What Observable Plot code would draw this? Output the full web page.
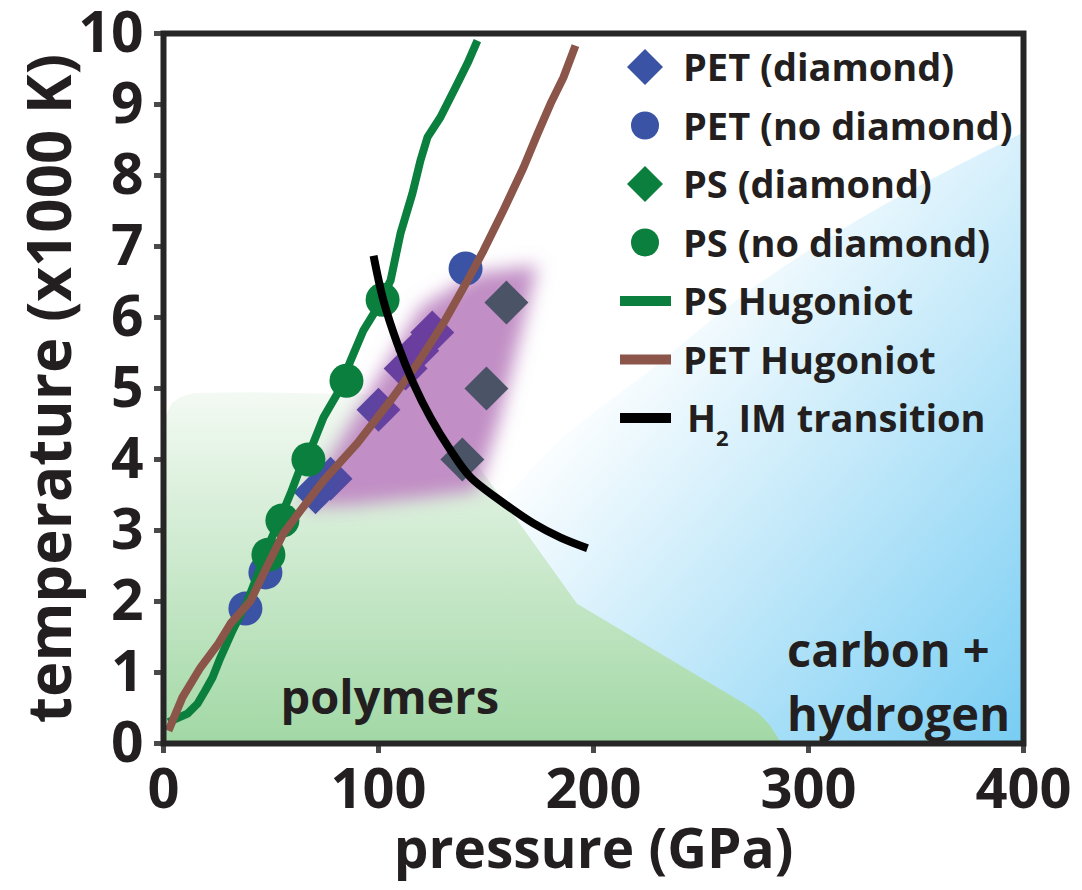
<!DOCTYPE html>
<html>
<head>
<meta charset="utf-8">
<script src="https://cdn.jsdelivr.net/npm/d3@7"></script>
<script src="https://cdn.jsdelivr.net/npm/@observablehq/plot@0.6"></script>
<style>
  body { margin: 0; background: #ffffff; }
  #chart { position: relative; width: 1082px; height: 890px; }
</style>
</head>
<body>
<div id="chart"></div>
<script>
// ---- measured states (pressure in GPa, temperature in 1000 K) ----
const petDiamondP   = [70.7, 77.7, 100.0, 112.6, 118.0, 125.0];
const petDiamondT   = [3.54, 3.73, 4.70, 5.28, 5.53, 5.79];
const petNoDiamondP = [38.1, 47.4, 140.5];
const petNoDiamondT = [1.90, 2.41, 6.69];
const psDiamondP    = [139.0, 150.2, 159.5];
const psDiamondT    = [4.00, 5.00, 6.21];
const psNoDiamondP  = [48.8, 55.3, 67.4, 85.1, 101.9];
const psNoDiamondT  = [2.66, 3.14, 4.00, 5.11, 6.25];

// ---- model curves ----
const psHugP  = [2.3, 11.2, 15.8, 19.5, 22.8, 26.5, 32.1, 39.1, 42.8, 48.4, 54.4, 59.1, 63.7, 67.0, 74.4, 80.9, 87.0, 93.0, 99.5, 105.6, 110.2, 115.8, 119.5, 122.8, 128.8, 135.8, 141.4, 146.0];
const psHugT  = [0.30, 0.42, 0.56, 0.75, 0.93, 1.21, 1.59, 2.01, 2.30, 2.76, 3.18, 3.52, 3.89, 4.03, 4.59, 4.93, 5.39, 5.82, 6.14, 6.52, 7.18, 7.75, 8.21, 8.54, 8.82, 9.24, 9.58, 9.90];
const petHugP = [2.3, 8.8, 17.2, 25.6, 31.2, 40.5, 48.4, 55.8, 63.7, 74.4, 90.2, 105.6, 118.1, 130.2, 141.4, 148.8, 158.1, 167.4, 174.0, 180.0, 186.0, 191.6];
const petHugT = [0.18, 0.65, 1.07, 1.41, 1.69, 2.01, 2.51, 2.96, 3.28, 3.70, 4.23, 4.83, 5.35, 5.92, 6.52, 6.94, 7.51, 8.11, 8.59, 9.01, 9.38, 9.83];
const h2P     = [97.7, 102.3, 108.8, 116.3, 124.2, 133.5, 142.8, 156.7, 172.1, 184.7, 197.2];
const h2T     = [6.87, 6.24, 5.63, 5.07, 4.59, 4.13, 3.75, 3.42, 3.10, 2.90, 2.75];

// ---- phase regions (upper / lower temperature bounds along pressure) ----
const polymerP    = [0, 1.5, 4.0, 8.0, 14.0, 40.5, 110.0, 142.8, 158.1, 192.6, 270.7, 277.0, 282.3, 285.5, 287.4];
const polymerTop  = [4.40, 4.62, 4.78, 4.87, 4.93, 4.94, 4.90, 4.06, 3.42, 1.96, 0.55, 0.42, 0.25, 0.10, 0];
const carbonP     = [150.0, 158.1, 184.7, 226.5, 273.0, 319.5, 356.7, 400.0];
const carbonTop   = [3.20, 3.42, 4.27, 5.25, 6.38, 7.30, 7.93, 8.60];
const hazeP       = [64.0, 87.0, 120.0, 146.0, 156.0, 170.0, 174.0];
const hazeLow     = [3.33, 3.35, 3.45, 3.55, 4.50, 6.20, 6.73];
const hazeHigh    = [3.33, 4.48, 6.14, 6.62, 6.66, 6.71, 6.73];

// ---- axis ticks ----
const xTicks = [0, 100, 200, 300, 400];
const yTicks = [0, 1, 2, 3, 4, 5, 6, 7, 8, 9, 10];

// ---- legend entries ----
const legendLabels = ["PET (diamond)", "PET (no diamond)", "PS (diamond)", "PS (no diamond)", "PS Hugoniot", "PET Hugoniot", "H2 IM transition"];
const legendKinds  = ["diamond", "circle", "diamond", "circle", "line", "line", "line"];

const BLUE = "#3a53a4", GREEN = "#0b7f3e", BROWN = "#8b554a", SLATE = "#4b5366";
const HAZE = "#c18ec5", PURPLE = "#6a3e9f", INK = "#231f20";
const SKY = "#78cdf3", LEAF = "#a2d8a5", PET_SHOT = "#3a53a5";
const legendColors = [BLUE, BLUE, GREEN, GREEN, GREEN, BROWN, "#000000"];

const rows = (P, T) => P.map((p, i) => ({p, t: T[i]}));
const band = (P, lo, hi) => P.map((p, i) => ({p, lo: lo[i], hi: hi[i]}));

const plot = Plot.plot({
  width: 1082,
  height: 890,
  marginLeft: 163,
  marginRight: 59,
  marginTop: 33,
  marginBottom: 147,
  style: {fontFamily: "'Open Sans', sans-serif", fontWeight: 700, color: INK, background: "#ffffff", overflow: "visible"},
  x: {domain: [0, 400]},
  y: {domain: [0, 10]},
  marks: [
    Plot.areaY(rows(carbonP, carbonTop), {x: "p", y1: 0, y2: "t", fill: SKY, curve: "catmull-rom"}),
    Plot.areaY(rows(polymerP, polymerTop), {x: "p", y1: 0, y2: "t", fill: LEAF}),
    Plot.areaY(band(hazeP, hazeLow, hazeHigh), {x: "p", y1: "lo", y2: "hi", fill: HAZE}),
    Plot.dot(rows(petDiamondP, petDiamondT), {x: "p", y: "t", symbol: "diamond2", r: 19.8, fill: PET_SHOT, stroke: "none"}),
    Plot.dot(rows(psDiamondP, psDiamondT), {x: "p", y: "t", symbol: "diamond2", r: 19.8, fill: SLATE, stroke: "none"}),
    Plot.dot(rows(petNoDiamondP, petNoDiamondT), {x: "p", y: "t", symbol: "circle", r: 17, fill: BLUE, stroke: "none"}),
    Plot.dot(rows(psNoDiamondP, psNoDiamondT), {x: "p", y: "t", symbol: "circle", r: 17, fill: GREEN, stroke: "none"}),
    Plot.line(rows(psHugP, psHugT), {x: "p", y: "t", stroke: GREEN, strokeWidth: 8, strokeLinecap: "butt"}),
    Plot.line(rows(petHugP, petHugT), {x: "p", y: "t", stroke: BROWN, strokeWidth: 8, strokeLinecap: "butt"}),
    Plot.line(rows(h2P, h2T), {x: "p", y: "t", stroke: "#000000", strokeWidth: 8, curve: "catmull-rom", strokeLinecap: "butt"}),
    Plot.text(["polymers"], {x: 54.4, y: 0.63, textAnchor: "start", lineAnchor: "middle", fontSize: 47, fill: INK}),
    Plot.text(["carbon +\nhydrogen"], {x: 290, y: 0.92, textAnchor: "start", lineAnchor: "middle", lineHeight: 1.37, fontSize: 47, fill: INK}),
    Plot.axisY({ticks: yTicks, tickSize: 9, tickPadding: 11, fontSize: 57, label: null, stroke: "#4a4a4a", strokeWidth: 5}),
    Plot.axisX({ticks: xTicks, tickSize: 10, tickPadding: 15, fontSize: 56, label: null, stroke: "#4a4a4a", strokeWidth: 5}),
    Plot.frame({stroke: "#262626", strokeWidth: 6}),
    Plot.text(["pressure (GPa)"], {frameAnchor: "bottom", dy: 107, textAnchor: "middle", lineAnchor: "middle", fontSize: 55, fill: INK}),
    Plot.text(["temperature (x1000 K)"], {frameAnchor: "left", dx: -112, rotate: -90, textAnchor: "middle", lineAnchor: "middle", fontSize: 60, fill: INK})
  ]
});

const xs = plot.scale("x"), ys = plot.scale("y");
const svg = d3.select(plot);
const defs = svg.insert("defs", "*");

// diagonal white-to-sky gradient for the carbon + hydrogen field
const cg = defs.append("linearGradient").attr("id", "carbonFill").attr("gradientUnits", "userSpaceOnUse")
  .attr("x1", xs.apply(166)).attr("y1", ys.apply(6.24)).attr("x2", xs.apply(400)).attr("y2", ys.apply(0));
cg.append("stop").attr("offset", 0).attr("stop-color", "#ffffff");
cg.append("stop").attr("offset", 0.15).attr("stop-color", "#ffffff");
cg.append("stop").attr("offset", 1).attr("stop-color", SKY);

// vertical pale-to-green gradient for the polymer field
const pg = defs.append("linearGradient").attr("id", "polymerFill").attr("gradientUnits", "userSpaceOnUse")
  .attr("x1", 0).attr("y1", ys.apply(0)).attr("x2", 0).attr("y2", ys.apply(5));
pg.append("stop").attr("offset", 0).attr("stop-color", LEAF);
pg.append("stop").attr("offset", 1).attr("stop-color", "#f4faf4");

const blur = defs.append("filter").attr("id", "hazeBlur").attr("filterUnits", "userSpaceOnUse")
  .attr("x", 0).attr("y", 0).attr("width", 1082).attr("height", 890);
blur.append("feGaussianBlur").attr("stdDeviation", 9);

svg.selectAll(`[fill="${SKY}"]`).attr("fill", "url(#carbonFill)");
svg.selectAll(`[fill="${LEAF}"]`).attr("fill", "url(#polymerFill)");
svg.selectAll(`[fill="${HAZE}"]`).attr("filter", "url(#hazeBlur)");

// PET diamond shots shift from blue to violet as they sit deeper in the haze
const shade = d3.scaleLinear().domain([xs.apply(66), xs.apply(106)]).range([BLUE, PURPLE])
  .interpolate(d3.interpolateRgb).clamp(true);
svg.selectAll(`g[fill="${PET_SHOT}"] > *`).each(function (_, i) {
  const m = /translate\(\s*([-\d.]+)[ ,]+([-\d.]+)/.exec(this.getAttribute("transform") || "");
  const cx = m ? +m[1] : 0;
  const id = `petShot${i}`;
  const g = defs.append("linearGradient").attr("id", id).attr("x1", 0).attr("y1", 0).attr("x2", 1).attr("y2", 0);
  g.append("stop").attr("offset", 0).attr("stop-color", shade(cx - 22));
  g.append("stop").attr("offset", 1).attr("stop-color", shade(cx + 22));
  d3.select(this).attr("fill", `url(#${id})`);
});

// legend
const legend = svg.append("g").attr("font-family", "'Open Sans', sans-serif").attr("font-weight", 700)
  .attr("font-size", 38).attr("fill", INK).attr("text-anchor", "start");
legendLabels.forEach((label, i) => {
  const cy = 67 + i * 58.5;
  const color = legendColors[i];
  const kind = legendKinds[i];
  if (kind === "diamond") {
    legend.append("path").attr("d", `M645,${cy - 18}L663,${cy}L645,${cy + 18}L627,${cy}Z`).attr("fill", color);
  } else if (kind === "circle") {
    legend.append("circle").attr("cx", 645).attr("cy", cy).attr("r", 14).attr("fill", color);
  } else {
    legend.append("line").attr("x1", 620).attr("x2", 671).attr("y1", cy).attr("y2", cy)
      .attr("stroke", color).attr("stroke-width", 10);
  }
  const t = legend.append("text").attr("x", label.startsWith("H2") ? 687 : 683).attr("y", cy + 14);
  if (label.startsWith("H2")) {
    t.append("tspan").text("H");
    t.append("tspan").attr("font-size", 22).attr("dy", 14).text("2");
    t.append("tspan").attr("dy", -14).text(" IM transition");
  } else {
    t.text(label);
  }
});

document.getElementById("chart").appendChild(plot);
</script>
</body>
</html>
